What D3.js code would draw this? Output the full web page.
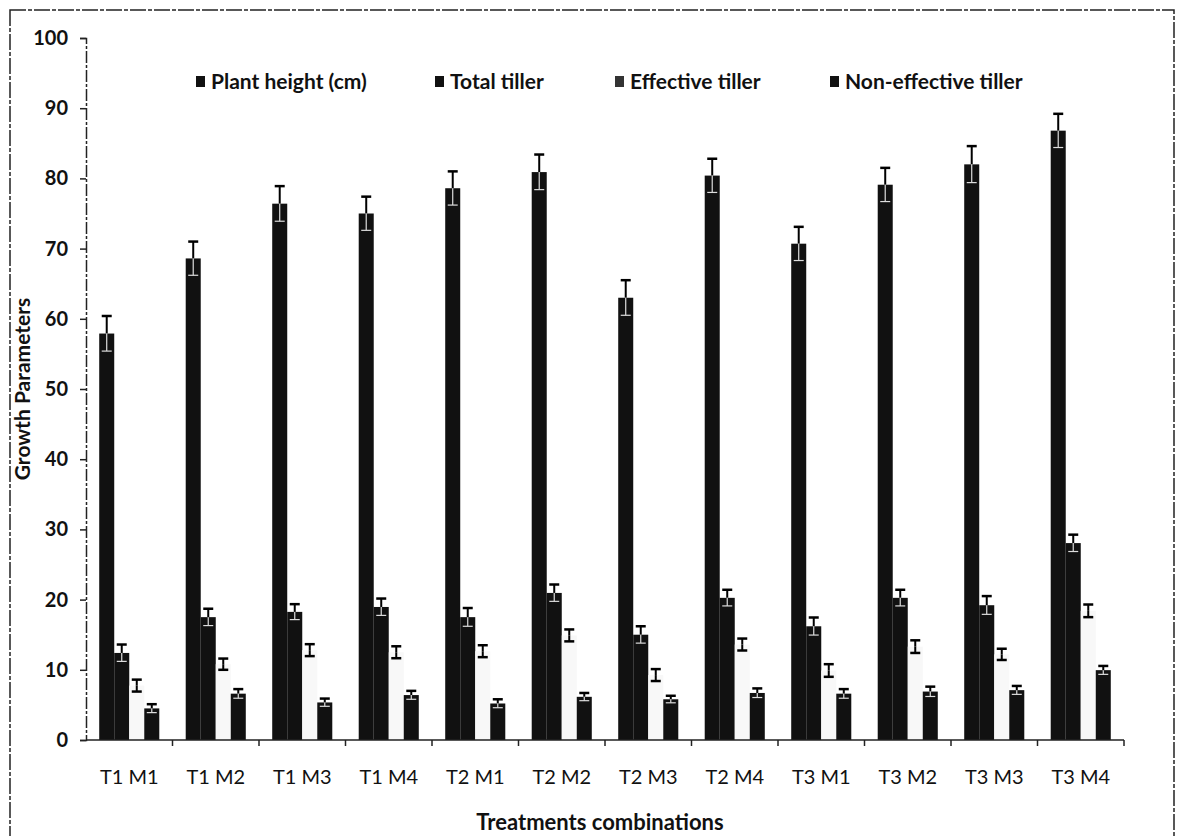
<!DOCTYPE html>
<html>
<head>
<meta charset="utf-8">
<script src="https://cdn.jsdelivr.net/npm/d3@7"></script>
<style>
  body { margin: 0; background: #fff; }
  text { font-family: Lato, "Open Sans", sans-serif; fill: #111; }
</style>
</head>
<body>
<script>
// values
const categories = ["T1 M1", "T1 M2", "T1 M3", "T1 M4", "T2 M1", "T2 M2",
                    "T2 M3", "T2 M4", "T3 M1", "T3 M2", "T3 M3", "T3 M4"];
const seriesNames = ["Plant height (cm)", "Total tiller", "Effective tiller", "Non-effective tiller"];

const plantHeight    = [57.9, 68.6, 76.4, 75.0, 78.6, 80.9, 63.0, 80.4, 70.7, 79.1, 82.0, 86.8];
const plantHeightErr = [2.5, 2.4, 2.5, 2.4, 2.4, 2.5, 2.5, 2.4, 2.4, 2.4, 2.6, 2.4];
const totalTiller    = [12.4, 17.5, 18.25, 18.95, 17.5, 20.95, 15.0, 20.25, 16.2, 20.25, 19.2, 28.05];
const totalTillerErr = [1.2, 1.2, 1.1, 1.2, 1.3, 1.2, 1.2, 1.15, 1.25, 1.15, 1.3, 1.2];
const effTiller      = [7.75, 10.8, 12.8, 12.5, 12.65, 14.9, 9.25, 13.6, 9.9, 13.3, 12.2, 18.4];
const effTillerErr   = [0.85, 0.8, 0.85, 0.85, 0.85, 0.85, 0.85, 0.85, 0.9, 0.9, 0.8, 0.9];
const nonEffTiller   = [4.5, 6.6, 5.35, 6.4, 5.2, 6.15, 5.8, 6.7, 6.6, 6.9, 7.1, 9.95];
const nonEffTillerErr= [0.6, 0.65, 0.55, 0.6, 0.6, 0.55, 0.5, 0.65, 0.65, 0.7, 0.6, 0.6];

const yTicks = [0, 10, 20, 30, 40, 50, 60, 70, 80, 90, 100];

const seriesValues = [plantHeight, totalTiller, effTiller, nonEffTiller];
const seriesErrors = [plantHeightErr, totalTillerErr, effTillerErr, nonEffTillerErr];
const seriesFill = ["#111", "#111", "#f8f8f8", "#111"];
const legendFill = ["#111", "#111", "#333", "#111"];

const W = 1182, H = 836;
const svg = d3.select("body").append("svg")
    .attr("width", W)
    .attr("height", H);

// outer frame (bottom runs off the page like the scan)
svg.append("rect")
    .attr("x", 10).attr("y", 10)
    .attr("width", 1164).attr("height", 860)
    .attr("fill", "none")
    .attr("stroke", "#222")
    .attr("stroke-width", 1.5)
    .attr("stroke-dasharray", "16 2 4 2");

const plotLeft = 86, plotRight = 1124, plotTop = 38, plotBottom = 740;

const x0 = d3.scaleBand().domain(categories).range([plotLeft, plotRight]).padding(0);
const x1 = d3.scaleBand().domain(seriesNames).range([0, x0.bandwidth()])
    .paddingInner(0).paddingOuter(0.88);
const y = d3.scaleLinear().domain([0, 100]).range([plotBottom, plotTop]);

// rows: one per category/series
let rows = [];
categories.forEach(function(c, i) {
  seriesNames.forEach(function(s, k) {
    rows.push({cat: c, s: s, k: k, v: seriesValues[k][i], e: seriesErrors[k][i]});
  });
});

// bars
svg.append("g").selectAll("rect")
    .data(rows)
    .enter()
    .append("rect")
    .attr("x", function(d) { return x0(d.cat) + x1(d.s); })
    .attr("width", x1.bandwidth())
    .attr("y", function(d) { return y(d.v); })
    .attr("height", function(d) { return plotBottom - y(d.v); })
    .attr("fill", function(d) { return seriesFill[d.k]; });

// error bars: upper half black, lower half shows light over dark bars
const capW = 10;
const eb = svg.append("g").selectAll("g")
    .data(rows)
    .enter()
    .append("g")
    .attr("transform", function(d) {
      return "translate(" + (x0(d.cat) + x1(d.s) + x1.bandwidth() / 2) + ",0)";
    });
eb.append("line")
    .attr("y1", function(d) { return y(d.v); })
    .attr("y2", function(d) { return y(d.v + d.e); })
    .attr("stroke", "#000").attr("stroke-width", 2);
eb.append("line")
    .attr("x1", -capW / 2).attr("x2", capW / 2)
    .attr("y1", function(d) { return y(d.v + d.e); })
    .attr("y2", function(d) { return y(d.v + d.e); })
    .attr("stroke", "#000").attr("stroke-width", 2.5);
eb.append("line")
    .attr("y1", function(d) { return y(d.v); })
    .attr("y2", function(d) { return y(d.v - d.e); })
    .attr("stroke", function(d) { return d.k === 2 ? "#000" : "#ddd"; })
    .attr("stroke-width", function(d) { return d.k === 2 ? 2 : 1.2; });
eb.append("line")
    .attr("x1", -capW / 2).attr("x2", capW / 2)
    .attr("y1", function(d) { return y(d.v - d.e); })
    .attr("y2", function(d) { return y(d.v - d.e); })
    .attr("stroke", function(d) { return d.k === 2 ? "#000" : "#ddd"; })
    .attr("stroke-width", function(d) { return d.k === 2 ? 2.5 : 1.2; });

// y axis
const yAxis = svg.append("g")
    .attr("transform", "translate(" + plotLeft + ",0)")
    .call(d3.axisLeft(y).tickValues(yTicks).tickSize(6).tickPadding(12));
yAxis.select(".domain").attr("stroke", "#222").attr("stroke-width", 1.5)
    .attr("stroke-dasharray", "12 2 3 2");
yAxis.selectAll(".tick line").attr("stroke", "#222").attr("stroke-width", 1.5);
yAxis.selectAll(".tick text")
    .style("font-family", "Lato, sans-serif")
    .style("font-size", "20px")
    .style("font-weight", "bold")
    .attr("fill", "#111");

// x axis: ticks on category boundaries
const xAxis = svg.append("g")
    .attr("transform", "translate(0," + plotBottom + ")");
xAxis.append("line")
    .attr("x1", plotLeft).attr("x2", plotRight)
    .attr("stroke", "#222").attr("stroke-width", 1.5);
xAxis.selectAll(".bt")
    .data(categories)
    .enter()
    .append("line")
    .attr("x1", function(d) { return x0(d) + x0.bandwidth(); })
    .attr("x2", function(d) { return x0(d) + x0.bandwidth(); })
    .attr("y1", 0).attr("y2", 6)
    .attr("stroke", "#222").attr("stroke-width", 1.5);
xAxis.selectAll(".lbl")
    .data(categories)
    .enter()
    .append("text")
    .attr("x", function(d) { return x0(d) + x0.bandwidth() / 2; })
    .attr("y", 44)
    .attr("text-anchor", "middle")
    .style("font-size", "20px")
    .text(function(d) { return d; });

// axis titles
svg.append("text")
    .attr("transform", "translate(30," + ((plotTop + plotBottom) / 2) + ") rotate(-90)")
    .attr("text-anchor", "middle")
    .style("font-size", "21px")
    .style("font-weight", "bold")
    .text("Growth Parameters");

svg.append("text")
    .attr("x", 600).attr("y", 830)
    .attr("text-anchor", "middle")
    .style("font-size", "22px")
    .style("font-weight", "bold")
    .text("Treatments combinations");

// legend
const legendX = [196, 435, 615, 830];
const lg = svg.append("g").selectAll("g")
    .data(seriesNames)
    .enter()
    .append("g")
    .attr("transform", function(d, i) { return "translate(" + legendX[i] + ",82)"; });
lg.append("rect")
    .attr("x", 0).attr("y", -6)
    .attr("width", 9).attr("height", 11)
    .attr("fill", function(d, i) { return legendFill[i]; });
lg.append("text")
    .attr("x", 15).attr("y", 7)
    .style("font-size", "21px")
    .style("font-weight", "bold")
    .text(function(d) { return d; });
</script>
</body>
</html>
